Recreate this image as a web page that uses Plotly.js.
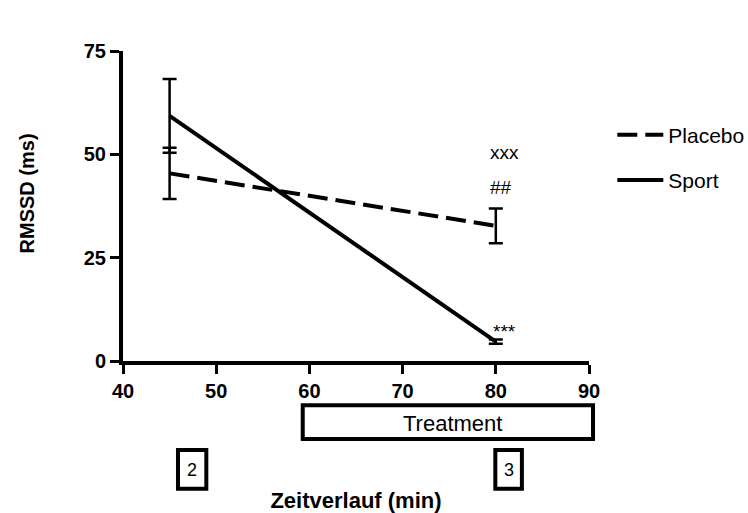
<!DOCTYPE html>
<html>
<head>
<meta charset="utf-8">
<script src="https://cdn.plot.ly/plotly-3.0.1.min.js"></script>
<style>
  html, body { margin: 0; padding: 0; background: #fff; }
  #chart { width: 748px; height: 513px; }
</style>
</head>
<body>
<div id="chart"></div>
<script>
// Measurement times (min)
const time = [45, 80];

// RMSSD means and SEM per group
const placeboMean = [45.4, 32.7];
const placeboSem  = [6.2, 4.2];
const sportMean   = [59.3, 4.7];
const sportSem    = [8.9, 0.5];

// Significance markers at the second measurement
const markText = ['xxx', '##', '***'];
const markX    = [80.9, 80.6, 80.9];
const markY    = [50.4, 41.9, 7.2];

// Phase labels below the time axis
const treatmentLabel = 'Treatment';
const phaseLabels = ['2', '3'];

const FONT = 'Arial, "Liberation Sans", sans-serif';

const placebo = {
  x: time, y: placeboMean, name: 'Placebo', type: 'scatter', mode: 'lines',
  legendgroup: 'p',
  line: { color: '#000', width: 4, dash: '20px,8px' },
  error_y: { type: 'data', array: placeboSem, visible: true, color: '#000', thickness: 2.5, width: 7 }
};
const sport = {
  x: time, y: sportMean, name: 'Sport', type: 'scatter', mode: 'lines',
  legendgroup: 's',
  line: { color: '#000', width: 4 },
  error_y: { type: 'data', array: sportSem, visible: true, color: '#000', thickness: 2.5, width: 7 }
};

const annotations = markText.map((t, i) => ({
  x: markX[i], y: markY[i], xref: 'x', yref: 'y', text: t, showarrow: false,
  xanchor: 'center', yanchor: 'middle',
  font: { family: FONT, size: 19, color: '#000' }
}));

// y-axis title
annotations.push({
  x: -0.205, y: 0.542, xref: 'paper', yref: 'paper', text: '<b>RMSSD (ms)</b>',
  xanchor: 'center', yanchor: 'middle',
  textangle: -90, showarrow: false, font: { family: FONT, size: 20, color: '#000' }
});

// Treatment period box and sampling-point boxes (paper coordinates)
const treatBox = { x0: 0.3857, x1: 1.0086, y0: -0.143, y1: -0.2516 };
const phaseBoxes = [{ x0: 0.118, x1: 0.1788 }, { x0: 0.799, x1: 0.856 }];
const phaseBoxY = { y0: -0.287, y1: -0.412 };
const phaseCenter = [0.148, 0.8277];

annotations.push({
  x: 0.708, y: -0.2, xref: 'paper', yref: 'paper', text: treatmentLabel,
  xanchor: 'center', yanchor: 'middle',
  showarrow: false, font: { family: FONT, size: 22, color: '#000' }
});
phaseLabels.forEach((t, i) => annotations.push({
  x: phaseCenter[i], y: -0.3516, xref: 'paper', yref: 'paper', text: t,
  xanchor: 'center', yanchor: 'middle',
  showarrow: false, font: { family: FONT, size: 18, color: '#000' }
}));

const boxLine = { color: '#000', width: 4 };
const shapes = [Object.assign({ type: 'rect', xref: 'paper', yref: 'paper', line: boxLine }, treatBox)]
  .concat(phaseBoxes.map(b => Object.assign({ type: 'rect', xref: 'paper', yref: 'paper', line: boxLine }, b, phaseBoxY)));

const axisCommon = {
  showline: true, linecolor: '#000', linewidth: 4, showgrid: false, zeroline: false,
  ticks: 'outside', ticklen: 9, tickwidth: 3, tickcolor: '#000',
  tickfont: { family: FONT, size: 20, color: '#000', weight: 'bold' }
};

const layout = {
  width: 748, height: 513,
  margin: { l: 123, r: 159, t: 51, b: 152, autoexpand: false },
  paper_bgcolor: '#fff', plot_bgcolor: '#fff',
  showlegend: true,
  legend: {
    x: 1.05, xanchor: 'left', y: 0.795, yanchor: 'top',
    font: { family: FONT, size: 21, color: '#000' },
    itemwidth: 46,
    tracegroupgap: 15, bgcolor: 'rgba(0,0,0,0)'
  },
  xaxis: Object.assign({}, axisCommon, {
    range: [40, 90], tickvals: [40, 50, 60, 70, 80, 90],
    title: { text: '<b>Zeitverlauf (min)</b>', standoff: 93, font: { family: FONT, size: 22, color: '#000' } }
  }),
  yaxis: Object.assign({}, axisCommon, {
    range: [0, 75], tickvals: [0, 25, 50, 75], ticklabelstandoff: 0
  }),
  annotations: annotations,
  shapes: shapes
};

Plotly.newPlot('chart', [placebo, sport], layout, { displayModeBar: false, staticPlot: true });
</script>
</body>
</html>
